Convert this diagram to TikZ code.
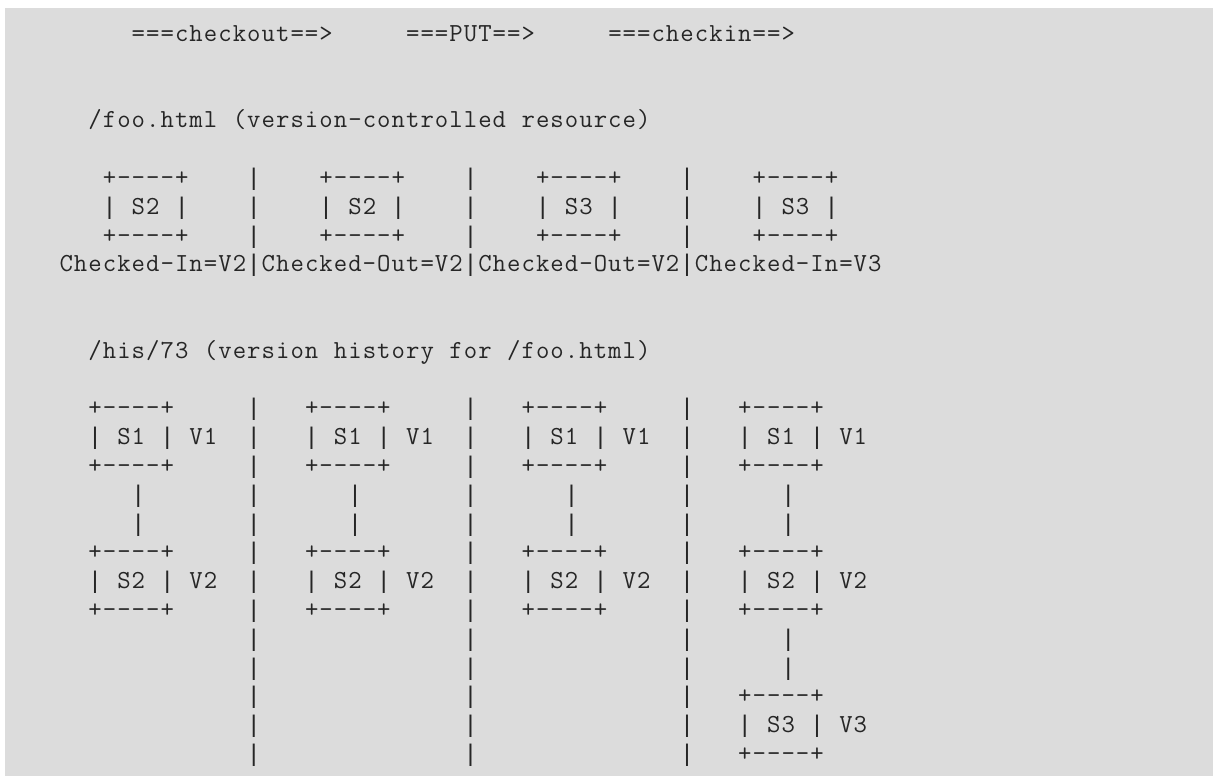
\documentclass[tikz,border=0pt]{standalone}
\usepackage{fontspec}
\newfontfamily\barfont{Liberation Mono}
\definecolor{bggray}{HTML}{DCDCDC}
\definecolor{ink}{HTML}{262626}
% every character in a cell of fixed width, as in a Courier listing
\ExplSyntaxOn
\str_new:N \l_cells_str
\NewDocumentCommand\cells{m}
  {
    \str_set:Nx \l_cells_str {#1}
    \str_map_inline:Nn \l_cells_str
      {
        \str_if_eq:nnTF {##1} {|}
          { \makebox[14.44pt][c]{ \barfont\fontsize{24.07}{28.8}\selectfont | } }
          { \makebox[14.44pt][c]{##1} }
      }
  }
\ExplSyntaxOff
\tikzset{
  ascii/.style={anchor=base west, inner sep=0pt, outer sep=0pt, text=ink,
    font=\ttfamily\fontsize{26}{28.8}\selectfont},
}
% name, row, column, text
\newcommand\place[4]{\node[ascii] (#1) at ({59+14.44*(#3)},{41.5+28.8*(#2)}) {\cells{#4}};}
\begin{document}
\begin{tikzpicture}[x=1pt,y=-1pt]
\useasboundingbox (0,0) rectangle (1213,776);
\fill[bggray] (5,8) rectangle (1213,776);
% operations
\place{checkout}{0}{5}{===checkout==>}
\place{put}{0}{24}{===PUT==>}
\place{checkin}{0}{38}{===checkin==>}
% version-controlled resource
\place{vcr}{3}{2}{/foo.html (version-controlled resource)}
\foreach \k/\s in {0/S2,1/S2,2/S3,3/S3}{
  \place{r-\k-top}{5}{3+15*\k}{+----+}
  \place{r-\k-mid}{6}{3+15*\k}{| \s\space|}
  \place{r-\k-bot}{7}{3+15*\k}{+----+}
}
\foreach \c in {13,28,43}{
  \foreach \r in {5,6,7}{
    \place{sa-\c-\r}{\r}{\c}{|}
  }
  \foreach \r in {13,...,25}{
    \place{sb-\c-\r}{\r}{\c}{|}
  }
}
\place{state}{8}{0}{Checked-In=V2|Checked-Out=V2|Checked-Out=V2|Checked-In=V3}
% version history
\place{his}{11}{2}{/his/73 (version history for /foo.html)}
\foreach \k in {0,1,2,3}{
  \place{v1-\k-top}{13}{2+15*\k}{+----+}
  \place{v1-\k-mid}{14}{2+15*\k}{| S1 | V1}
  \place{v1-\k-bot}{15}{2+15*\k}{+----+}
  \place{la-\k-1}{16}{5+15*\k}{|}
  \place{la-\k-2}{17}{5+15*\k}{|}
  \place{v2-\k-top}{18}{2+15*\k}{+----+}
  \place{v2-\k-mid}{19}{2+15*\k}{| S2 | V2}
  \place{v2-\k-bot}{20}{2+15*\k}{+----+}
}
\place{lb-1}{21}{50}{|}
\place{lb-2}{22}{50}{|}
\place{v3-top}{23}{47}{+----+}
\place{v3-mid}{24}{47}{| S3 | V3}
\place{v3-bot}{25}{47}{+----+}
\end{tikzpicture}
\end{document}
